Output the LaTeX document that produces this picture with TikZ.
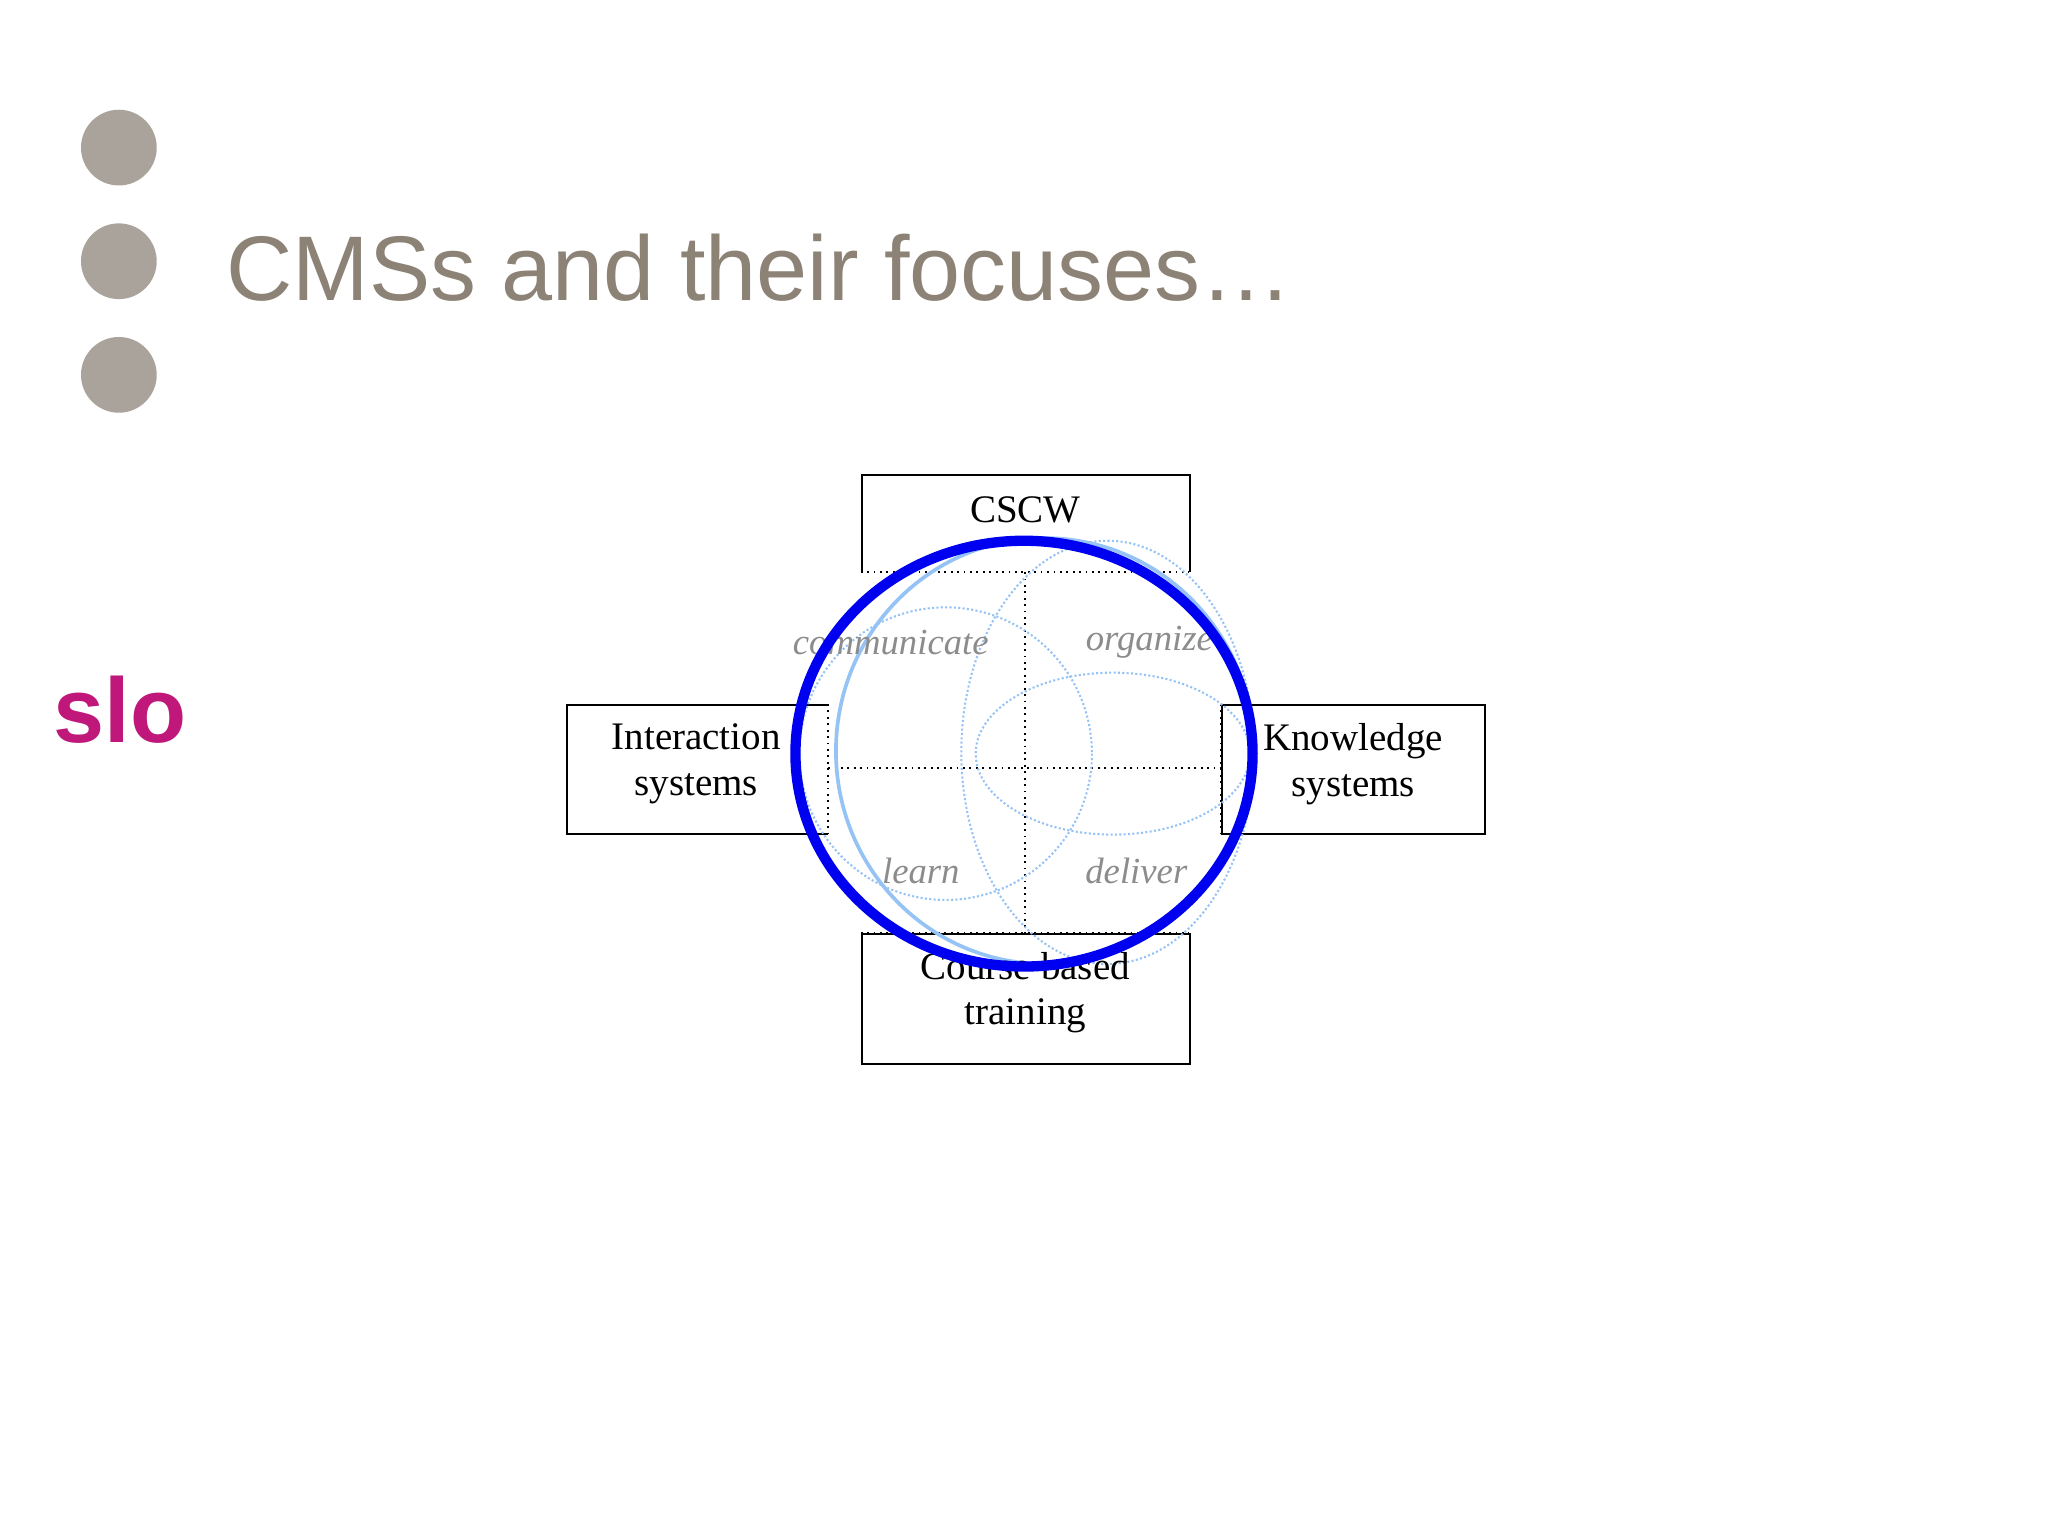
\documentclass[tikz,border=0pt]{standalone}
\usepackage{fontspec}
\setmainfont{Liberation Serif}
\newfontfamily\arialf{Liberation Sans}
\begin{document}
\begin{tikzpicture}[x=0.02cm,y=-0.02cm,
  bul/.style={circle,fill=bulgray,draw=none,minimum size=1.16cm,inner sep=0},
  boxn/.style={draw=black,line width=0.9pt,fill=white,inner sep=0,align=center,font=\fontsize{17}{20}\selectfont},
  lab/.style={font=\itshape\fontsize{16}{18}\selectfont,text=black!45},
  dotl/.style={dotted,line width=0.8pt},
  lblue/.style={draw=lightblue,line width=0.9pt,densely dotted},
]
\definecolor{bulgray}{RGB}{170,163,155}
\definecolor{titlegray}{RGB}{140,130,118}
\definecolor{slo}{RGB}{192,24,122}
\definecolor{lightblue}{RGB}{150,195,245}
\definecolor{bigblue}{RGB}{0,0,240}
\useasboundingbox (0,0) rectangle (1568,1176);
\fill[white] (0,0) rectangle (1568,1176);
\node[bul] (b1) at (91,113) {};
\node[bul] (b2) at (91,200) {};
\node[bul] (b3) at (91,287) {};
\node[anchor=base west,text=titlegray,font=\arialf\fontsize{40}{48}\selectfont,inner sep=0] (title) at (173,230) {CMSs and their focuses\ldots};
\node[text=slo,font=\arialf\bfseries\fontsize{40}{48}\selectfont] (slo) at (92,543) {slo};
% boxes
\node[boxn,minimum width=5.02cm,minimum height=1.5cm,anchor=north west] (cscw) at (659,363) {};
\node[boxn,minimum width=4.02cm,minimum height=1.98cm,anchor=north west] (inter) at (433,539) {};
\node[boxn,minimum width=4.02cm,minimum height=1.98cm,anchor=north west] (know) at (935,539) {};
\node[boxn,minimum width=5.02cm,minimum height=2.0cm,anchor=north west] (course) at (659,714) {};
\fill[white] (634,438) rectangle (935,714);
\draw[dotl] (634,539) -- (634,638);
\draw[dotl] (935,539) -- (935,638);
\draw[dotl] (659,438) -- (910,438);
\draw[dotl] (659,714) -- (910,714);
\draw[dotl] (785,438) -- (785,714);
\draw[dotl] (634,588) -- (935,588);
% light shapes
\draw[lblue] (724,577) ellipse [x radius=112, y radius=112];
\draw[lblue] (852,577) ellipse [x radius=105, y radius=62];
\draw[lblue] (848,576) ellipse [x radius=112, y radius=162];
\draw[draw=lightblue,line width=1.6pt] (800,575) ellipse [x radius=160, y radius=163];
% labels
\node[font=\fontsize{17}{20}\selectfont] (t1) at (785,390) {CSCW};
\node[font=\fontsize{17}{20}\selectfont,align=center] (t2) at (533,585) {Interaction\\systems};
\node[font=\fontsize{17}{20}\selectfont,align=center] (t3) at (1036,585) {Knowledge\\systems};
\node[font=\fontsize{17}{20}\selectfont,align=center] (t4) at (785,760) {Course based\\training};
\node[lab] (l1) at (682,492) {communicate};
\node[lab] (l2) at (880,492) {organize};
\node[lab] (l3) at (705,667) {learn};
\node[lab] (l4) at (870,667) {deliver};
% big blue circle
\draw[draw=bigblue,line width=4.5pt] (784,577) ellipse [x radius=175, y radius=163];
\end{tikzpicture}
\end{document}
